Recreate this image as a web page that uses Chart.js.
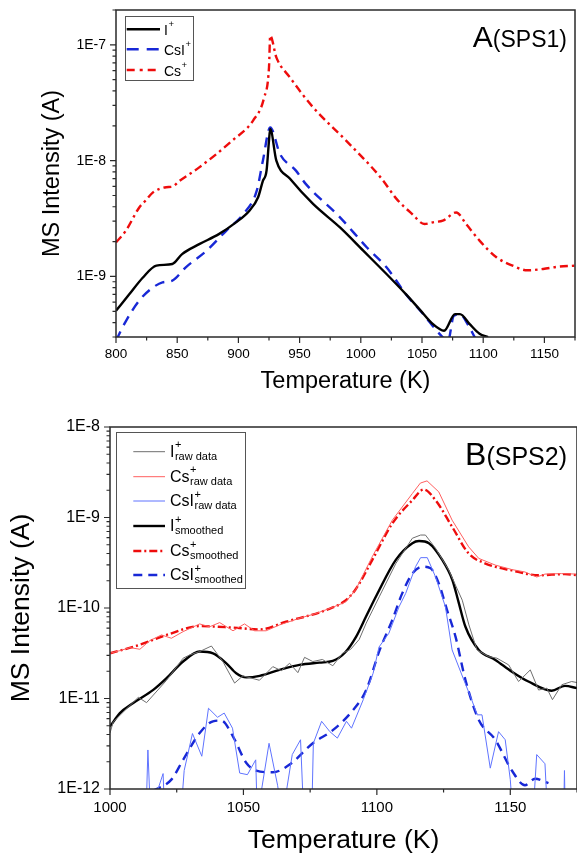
<!DOCTYPE html>
<html>
<head>
<meta charset="utf-8">
<title>MS intensity vs temperature</title>
<script src="https://cdn.jsdelivr.net/npm/chart.js@4.4.1/dist/chart.umd.min.js"></script>
<style>
  body { margin: 0; background: #fff; }
  canvas { display: block; }
</style>
</head>
<body>
<canvas id="panelA" width="577" height="400"></canvas>
<canvas id="panelB" width="577" height="458"></canvas>
<script>
// ---------- panel A (SPS1) ----------
const aTempI = [800, 811, 822, 833, 846, 854, 868, 884, 898, 909, 916, 920, 923, 925, 926, 931, 942, 961, 983, 1002, 1021, 1037, 1048, 1059, 1068, 1077, 1081, 1089, 1097, 1104];
const aI = [5.06e-10, 7.05e-10, 9.8e-10, 1.24e-9, 1.28e-9, 1.56e-9, 1.9e-9, 2.32e-9, 2.93e-9, 3.7e-9, 4.8e-9, 6.7e-9, 8.2e-9, 1.49e-8, 1.88e-8, 1.0e-8, 7.0e-9, 4.23e-9, 2.65e-9, 1.67e-9, 1.05e-9, 7.0e-10, 5.2e-10, 3.87e-10, 3.4e-10, 4.73e-10, 4.73e-10, 3.87e-10, 3.2e-10, 3.0e-10];

const aTempCsI = [800, 808, 819, 830, 838, 846, 857, 874, 890, 904, 915, 920, 926, 934, 947, 955, 983, 1005, 1021, 1037, 1051, 1062, 1068, 1071, 1076, 1081, 1089, 1093, 1096];
const aCsI = [2.8e-10, 4.1e-10, 6.2e-10, 8.0e-10, 8.9e-10, 9.2e-10, 1.2e-9, 1.67e-9, 2.48e-9, 3.46e-9, 5.5e-9, 1.0e-8, 1.94e-8, 1.14e-8, 8.2e-9, 6.3e-9, 3.24e-9, 1.78e-9, 1.2e-9, 7.0e-10, 4.73e-10, 3.4e-10, 2.9e-10, 2.7e-10, 4.57e-10, 4.7e-10, 3.6e-10, 3.0e-10, 2.7e-10];

const aTempCs = [800, 808, 819, 824, 830, 841, 846, 852, 868, 895, 912, 921, 925, 926, 931, 942, 961, 988, 1017, 1029, 1042, 1052, 1060, 1067, 1078, 1086, 1097, 1111, 1124, 1136, 1149, 1160, 1175];
const aCs = [1.97e-9, 2.48e-9, 3.94e-9, 4.5e-9, 5.3e-9, 5.9e-9, 5.96e-9, 6.7e-9, 8.75e-9, 1.49e-8, 2.22e-8, 3.5e-8, 6.4e-8, 1.2e-7, 7.8e-8, 5.25e-8, 2.89e-8, 1.49e-8, 7.0e-9, 4.7e-9, 3.46e-9, 2.84e-9, 2.95e-9, 3.03e-9, 3.57e-9, 2.84e-9, 2.04e-9, 1.46e-9, 1.24e-9, 1.13e-9, 1.16e-9, 1.21e-9, 1.24e-9];

const aXTicks = [800, 825, 850, 875, 900, 925, 950, 975, 1000, 1025, 1050, 1075, 1100, 1125, 1150, 1175];
const aYDecades = [1e-10, 1e-9, 1e-8, 1e-7];

// ---------- panel B (SPS2) ----------
const bTempIRaw = [1000, 1001.2, 1005, 1010.6, 1013.7, 1021.2, 1027.4, 1029.9, 1033.6, 1038, 1042.3, 1046.7, 1049.8, 1056, 1061, 1064.2, 1067.3, 1070.4, 1072.9, 1076, 1079.6, 1083.5, 1087.1, 1090.2, 1093.4, 1096, 1101, 1107.1, 1113.3, 1116.4, 1118.2, 1122, 1126.9, 1132, 1134.5, 1137.5, 1141.9, 1145, 1149.4, 1153.1, 1157.5, 1160.6, 1163.7, 1165.8, 1169.3, 1173, 1175];
const bIRaw = [4.15e-12, 5.5e-12, 7.1e-12, 1.03e-11, 9.0e-12, 1.59e-11, 2.79e-11, 3.03e-11, 3.3e-11, 3.8e-11, 2.56e-11, 1.48e-11, 1.78e-11, 1.59e-11, 2.25e-11, 2.03e-11, 2.45e-11, 1.93e-11, 2.85e-11, 2.56e-11, 2.7e-11, 2.3e-11, 3.16e-11, 3.5e-11, 4.5e-11, 6.8e-11, 1.35e-10, 3.1e-10, 5.9e-10, 6.4e-10, 6.4e-10, 4.56e-10, 2.63e-10, 1.22e-10, 6.5e-11, 3.44e-11, 2.9e-11, 2.79e-11, 2.35e-11, 1.54e-11, 2.07e-11, 1.24e-11, 1.3e-11, 9.7e-12, 1.42e-11, 1.54e-11, 1.5e-11];

const bTempCsRaw = [1000, 1003.7, 1007.5, 1011.2, 1014.9, 1019.3, 1023, 1027.4, 1033.6, 1037.3, 1041.1, 1046.1, 1050.4, 1054.2, 1058.5, 1063.5, 1071, 1077.2, 1083.5, 1088.4, 1092.1, 1098.3, 1105.8, 1113.3, 1116.3, 1118.8, 1123.2, 1128.2, 1134.4, 1138.2, 1144.4, 1150.6, 1155.5, 1159.9, 1163, 1169.2, 1175];
const bCsRaw = [3.16e-11, 3.38e-11, 3.65e-11, 3.5e-11, 4.35e-11, 5.04e-11, 4.63e-11, 5.48e-11, 6.67e-11, 6.2e-11, 6.9e-11, 5.6e-11, 6.67e-11, 5.6e-11, 5.6e-11, 6.5e-11, 7.7e-11, 8.7e-11, 1.02e-10, 1.17e-10, 1.6e-10, 3.7e-10, 9.35e-10, 1.84e-9, 2.4e-9, 2.54e-9, 1.92e-9, 9.35e-10, 4.74e-10, 3.53e-10, 2.98e-10, 2.66e-10, 2.5e-10, 2.2e-10, 2.37e-10, 2.4e-10, 2.37e-10];

// 5e-13 = below the bottom of the axis (off scale)
const bTempCsIRaw = [1000, 1013.5, 1014.2, 1015.2, 1018, 1019.9, 1020.5, 1026.5, 1027.8, 1030.9, 1034.4, 1036.9, 1040.3, 1042.8, 1045.9, 1048.6, 1051.5, 1054.6, 1055.2, 1059.6, 1062.8, 1064.6, 1068.3, 1071.4, 1072.6, 1075.6, 1076.2, 1079.3, 1082.4, 1085.2, 1088.6, 1090.5, 1094.9, 1098.6, 1100.8, 1104.5, 1108.3, 1110.8, 1114.5, 1116.4, 1118.9, 1122, 1125.7, 1128.2, 1132.6, 1135.1, 1137.6, 1139.4, 1142.5, 1145.6, 1148.1, 1150, 1151, 1158.5, 1159.9, 1163, 1164, 1170, 1170.3, 1170.6, 1175];
const bCsIRaw = [5e-13, 5e-13, 2.7e-12, 5e-13, 1.0e-12, 1.48e-12, 5e-13, 5e-13, 1.6e-12, 4.1e-12, 2.3e-12, 7.8e-12, 6.2e-12, 6.9e-12, 4.7e-12, 1.5e-12, 1.44e-12, 2.1e-12, 5e-13, 3.2e-12, 1.1e-12, 5e-13, 2.4e-12, 3.5e-12, 5e-13, 5e-13, 3.2e-12, 5.6e-12, 4.3e-12, 3.65e-12, 5.6e-12, 4.7e-12, 9.7e-12, 1.9e-11, 3.7e-11, 5.26e-11, 1.03e-10, 1.45e-10, 2.86e-10, 3.6e-10, 3.6e-10, 2.2e-10, 1.03e-10, 3.44e-11, 1.6e-11, 1.05e-11, 6.6e-12, 6.6e-12, 1.7e-12, 4.3e-12, 3.5e-12, 1.27e-12, 5e-13, 5e-13, 2.4e-12, 1.9e-12, 5e-13, 5e-13, 1.6e-12, 5e-13, 5e-13];

const bTempISm = [1000, 1003.7, 1008.7, 1016.2, 1021.2, 1027.4, 1033.6, 1038.6, 1043.6, 1047.3, 1051.1, 1056.1, 1063.5, 1071, 1078.5, 1083.5, 1088, 1092.2, 1095.9, 1100, 1107.1, 1113.3, 1115.8, 1119.5, 1124.5, 1128.3, 1130.5, 1133.2, 1138.2, 1144.4, 1150.6, 1156.8, 1165.5, 1170.5, 1175];
const bISm = [4.9e-12, 6.9e-12, 8.9e-12, 1.245e-11, 1.68e-11, 2.56e-11, 3.3e-11, 3.16e-11, 2.45e-11, 1.9e-11, 1.71e-11, 1.78e-11, 2.07e-11, 2.35e-11, 2.49e-11, 2.6e-11, 3.2e-11, 4.8e-11, 8e-11, 1.4e-10, 3.4e-10, 5.2e-10, 5.5e-10, 5.2e-10, 3.4e-10, 2.04e-10, 1.2e-10, 6.2e-11, 3.44e-11, 2.67e-11, 1.98e-11, 1.54e-11, 1.22e-11, 1.38e-11, 1.3e-11];

const bTempCsSm = [1000, 1010.9, 1021.2, 1033.6, 1046.1, 1056.1, 1066, 1081, 1088.4, 1092, 1098.3, 1105.8, 1113.3, 1117.6, 1122, 1128.2, 1134.4, 1140.7, 1150.6, 1160.6, 1170.5, 1175];
const bCsSm = [3.16e-11, 3.9e-11, 5.04e-11, 6.3e-11, 6.07e-11, 5.8e-11, 7.06e-11, 9.5e-11, 1.22e-10, 1.6e-10, 3.4e-10, 8.6e-10, 1.55e-9, 2.04e-9, 1.55e-9, 7.9e-10, 4.0e-10, 3.1e-10, 2.6e-10, 2.3e-10, 2.37e-10, 2.3e-10];

const bTempCsISm = [1016, 1022.9, 1027.4, 1033.6, 1038.6, 1041.7, 1046.1, 1051.1, 1054.8, 1061, 1067.3, 1076, 1083.5, 1091, 1096, 1101, 1105.8, 1109.5, 1113.3, 1117, 1120.1, 1123.2, 1126.3, 1129.5, 1133.2, 1138.2, 1144.4, 1150.6, 1155.5, 1159.3, 1164.3];
const bCsISm = [9.5e-13, 1.26e-12, 2.1e-12, 4.15e-12, 5.6e-12, 5.7e-12, 3.8e-12, 1.94e-12, 1.6e-12, 1.53e-12, 1.86e-12, 3.2e-12, 4.47e-12, 7.4e-12, 1.24e-11, 3.4e-11, 7.4e-11, 1.45e-10, 2.4e-10, 2.86e-10, 2.75e-10, 1.87e-10, 9.5e-11, 4.8e-11, 1.6e-11, 5.8e-12, 3.5e-12, 1.6e-12, 1.1e-12, 1.3e-12, 1.16e-12];

const bXTicks = [1000, 1025, 1050, 1075, 1100, 1125, 1150, 1175];
const bYDecades = [1e-12, 1e-11, 1e-10, 1e-9, 1e-8];

// ---------- styling ----------
const FONT = '"Liberation Sans", Arial, sans-serif';
const RED = 'rgb(238,12,12)';
const BLUE = 'rgb(24,40,214)';
const GREY = 'rgb(110,110,110)';
const LRED = 'rgb(255,95,95)';
const LBLUE = 'rgb(95,115,255)';

Chart.defaults.font.family = FONT;
Chart.defaults.color = '#000';

function pts(xs, ys) {
  return xs.map((x, i) => ({ x: x, y: ys[i] }));
}

function logTicks(decades, min, max) {
  const out = [];
  decades.forEach(d => {
    for (let k = 1; k <= 9; k++) {
      const v = d * k;
      if (v >= min * 0.999 && v <= max * 1.001) out.push({ value: v });
    }
  });
  return out;
}

function isDecade(v) {
  const e = Math.round(Math.log10(v));
  return Math.abs(v / Math.pow(10, e) - 1) < 1e-6;
}

function noPad(s) {
  s.paddingLeft = 0; s.paddingRight = 0; s.paddingTop = 0; s.paddingBottom = 0;
}

function axisX(min, max, tickVals, o) {
  return {
    type: 'linear', min: min, max: max,
    afterBuildTicks: s => { s.ticks = tickVals.map(v => ({ value: v })); },
    afterFit: s => { s.height = o.height; noPad(s); },
    grid: { display: false, drawTicks: false },
    border: { display: false },
    ticks: {
      autoSkip: false, maxRotation: 0, minRotation: 0, padding: o.pad, color: '#000',
      font: { size: o.tickSize },
      callback: v => (v % 50 === 0 ? String(v) : '')
    },
    title: {
      display: true, text: 'Temperature (K)', color: '#000',
      font: { size: o.titleSize }, padding: { top: 0, bottom: o.titlePad }
    }
  };
}

function axisY(min, max, decades, o) {
  return {
    type: 'logarithmic', min: min, max: max,
    afterBuildTicks: s => { s.ticks = logTicks(decades, min, max); },
    afterFit: s => { s.width = o.width; noPad(s); },
    grid: { display: false, drawTicks: false },
    border: { display: false },
    ticks: {
      autoSkip: false, padding: o.pad, color: '#000',
      font: { size: o.tickSize },
      callback: v => (isDecade(v) ? '1E' + Math.round(Math.log10(v)) : '')
    },
    title: {
      display: true, text: 'MS Intensity (A)', color: '#000',
      font: { size: o.titleSize }, padding: { top: o.titlePad, bottom: 0 }
    }
  };
}

// frame, outward ticks, legend and panel label
function decor(cfg) {
  return {
    id: 'decor',
    afterDraw(chart) {
      const ctx = chart.ctx;
      const a = chart.chartArea;
      const xs = chart.scales.x, ys = chart.scales.y;
      ctx.save();
      ctx.strokeStyle = '#2a2a2a';
      ctx.lineWidth = 1.5;
      ctx.strokeRect(a.left, a.top, a.right - a.left, a.bottom - a.top);

      ctx.lineWidth = 1.2;
      ctx.beginPath();
      xs.ticks.forEach(t => {
        const px = xs.getPixelForValue(t.value);
        const len = t.value % 50 === 0 ? 6 : 3.5;
        ctx.moveTo(px, a.bottom);
        ctx.lineTo(px, a.bottom + len);
      });
      ys.ticks.forEach(t => {
        const py = ys.getPixelForValue(t.value);
        const len = isDecade(t.value) ? 6 : 3.5;
        ctx.moveTo(a.left, py);
        ctx.lineTo(a.left - len, py);
      });
      ctx.stroke();

      // legend box
      const L = cfg.legend;
      ctx.fillStyle = '#fff';
      ctx.fillRect(L.box[0], L.box[1], L.box[2], L.box[3]);
      ctx.strokeStyle = '#555';
      ctx.lineWidth = 1;
      ctx.strokeRect(L.box[0] + 0.5, L.box[1] + 0.5, L.box[2], L.box[3]);
      L.items.forEach((e, i) => {
        const y = L.rows[i];
        ctx.save();
        ctx.strokeStyle = e.color;
        ctx.lineWidth = e.width;
        ctx.setLineDash(e.dash || []);
        ctx.beginPath();
        ctx.moveTo(L.x, y);
        ctx.lineTo(L.x + L.lineLen, y);
        ctx.stroke();
        ctx.restore();
        const tx = L.x + L.lineLen + L.gap;
        const base = y + L.baseOff;
        ctx.fillStyle = '#000';
        ctx.textAlign = 'left';
        ctx.textBaseline = 'alphabetic';
        ctx.font = L.size + 'px ' + FONT;
        ctx.fillText(e.name, tx, base);
        const w = ctx.measureText(e.name).width;
        ctx.font = L.small + 'px ' + FONT;
        ctx.fillText('+', tx + w + 0.5, base - L.supOff);
        if (e.sub) ctx.fillText(e.sub, tx + w + 0.5, base + L.subOff);
      });

      // panel label
      const P = cfg.label;
      ctx.fillStyle = '#000';
      ctx.textAlign = 'left';
      ctx.textBaseline = 'alphabetic';
      ctx.font = P.restSize + 'px ' + FONT;
      const wr = ctx.measureText(P.rest).width;
      ctx.font = P.bigSize + 'px ' + FONT;
      const wb = ctx.measureText(P.big).width;
      const x0 = a.right - P.right - wr - wb;
      ctx.fillText(P.big, x0, a.top + P.base);
      ctx.font = P.restSize + 'px ' + FONT;
      ctx.fillText(P.rest, x0 + wb, a.top + P.base);
      ctx.restore();
    }
  };
}

const lineDefaults = { pointRadius: 0, fill: false };

// ---------- chart A ----------
new Chart(document.getElementById('panelA'), {
  type: 'line',
  data: {
    datasets: [
      Object.assign({ label: 'I+', data: pts(aTempI, aI), borderColor: '#000', borderWidth: 2.4, cubicInterpolationMode: 'monotone' }, lineDefaults),
      Object.assign({ label: 'CsI+', data: pts(aTempCsI, aCsI), borderColor: BLUE, borderWidth: 2.4, borderDash: [10, 7], cubicInterpolationMode: 'monotone' }, lineDefaults),
      Object.assign({ label: 'Cs+', data: pts(aTempCs, aCs), borderColor: RED, borderWidth: 2.4, borderDash: [8, 4, 2.5, 4], cubicInterpolationMode: 'monotone' }, lineDefaults)
    ]
  },
  options: {
    responsive: false,
    animation: false,
    devicePixelRatio: 1,
    layout: { padding: { top: 10, right: 2, left: 0, bottom: 0 } },
    plugins: { legend: { display: false }, tooltip: { enabled: false } },
    scales: {
      x: axisX(800, 1175, aXTicks, { height: 63, pad: 9, tickSize: 13.5, titleSize: 23.5, titlePad: 4.5 }),
      y: axisY(3e-10, 2e-7, aYDecades, { width: 116, pad: 10, tickSize: 14, titleSize: 23.5, titlePad: 38 })
    }
  },
  plugins: [decor({
    legend: {
      box: [125, 16, 68, 64], x: 126.7, rows: [29.3, 49.3, 70], lineLen: 33.3, gap: 4,
      size: 14, small: 9.5, baseOff: 5.7, supOff: 7.6, subOff: 0,
      items: [
        { name: 'I', color: '#000', width: 2.4 },
        { name: 'CsI', color: BLUE, width: 2.4, dash: [12, 8] },
        { name: 'Cs', color: RED, width: 2.4, dash: [8, 5, 3, 5] }
      ]
    },
    label: { big: 'A', rest: '(SPS1)', bigSize: 30, restSize: 23, right: 8, base: 37 }
  })]
});

// ---------- chart B ----------
new Chart(document.getElementById('panelB'), {
  type: 'line',
  data: {
    datasets: [
      Object.assign({ label: 'I+ raw data', data: pts(bTempIRaw, bIRaw), borderColor: GREY, borderWidth: 1, tension: 0 }, lineDefaults),
      Object.assign({ label: 'Cs+ raw data', data: pts(bTempCsRaw, bCsRaw), borderColor: LRED, borderWidth: 1, tension: 0 }, lineDefaults),
      Object.assign({ label: 'CsI+ raw data', data: pts(bTempCsIRaw, bCsIRaw), borderColor: LBLUE, borderWidth: 1, tension: 0 }, lineDefaults),
      Object.assign({ label: 'I+ smoothed', data: pts(bTempISm, bISm), borderColor: '#000', borderWidth: 2.4, cubicInterpolationMode: 'monotone' }, lineDefaults),
      Object.assign({ label: 'Cs+ smoothed', data: pts(bTempCsSm, bCsSm), borderColor: RED, borderWidth: 2.4, borderDash: [8, 3, 2, 3], cubicInterpolationMode: 'monotone' }, lineDefaults),
      Object.assign({ label: 'CsI+ smoothed', data: pts(bTempCsISm, bCsISm), borderColor: BLUE, borderWidth: 2.4, borderDash: [9, 6], cubicInterpolationMode: 'monotone' }, lineDefaults)
    ]
  },
  options: {
    responsive: false,
    animation: false,
    devicePixelRatio: 1,
    layout: { padding: { top: 27, right: 0, left: 0, bottom: 0 } },
    plugins: { legend: { display: false }, tooltip: { enabled: false } },
    scales: {
      x: axisX(1000, 1175, bXTicks, { height: 69, pad: 10, tickSize: 15, titleSize: 26.5, titlePad: 1.8 }),
      y: axisY(1e-12, 1e-8, bYDecades, { width: 110, pad: 10, tickSize: 16, titleSize: 26.5, titlePad: 6 })
    }
  },
  plugins: [decor({
    legend: {
      box: [116, 32, 129, 156], x: 133.3, rows: [51.7, 76.7, 101, 126, 151, 175], lineLen: 31.7, gap: 5,
      size: 16, small: 11, baseOff: 5, supOff: 8.3, subOff: 3.3,
      items: [
        { name: 'I', sub: 'raw data', color: GREY, width: 1 },
        { name: 'Cs', sub: 'raw data', color: LRED, width: 1 },
        { name: 'CsI', sub: 'raw data', color: LBLUE, width: 1 },
        { name: 'I', sub: 'smoothed', color: '#000', width: 2.4 },
        { name: 'Cs', sub: 'smoothed', color: RED, width: 2.4, dash: [8, 3, 2, 3] },
        { name: 'CsI', sub: 'smoothed', color: BLUE, width: 2.4, dash: [9, 6] }
      ]
    },
    label: { big: 'B', rest: '(SPS2)', bigSize: 32, restSize: 25, right: 10, base: 38 }
  })]
});
</script>
</body>
</html>
